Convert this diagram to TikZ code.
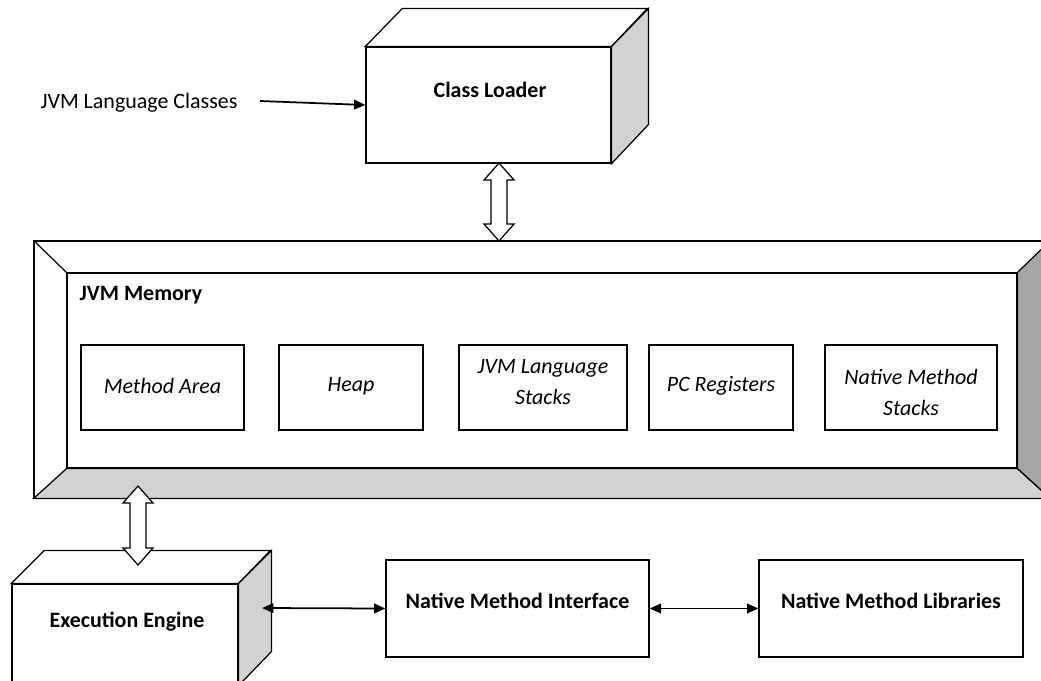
\documentclass[tikz,border=0pt]{standalone}
\usepackage{fontspec}
\setmainfont{Carlito}
\usetikzlibrary{calc, shapes, arrows.meta}

\newcommand{\fatarrow}[2]{%
  \filldraw[fill=white] (#1) -- ++(15,17) -- ++(-7,0) -- ($(#2)+(8,-17)$) -- ++(7,0) -- (#2)
    -- ++(-15,-17) -- ++(7,0) -- ($(#1)+(-8,17)$) -- ++(-7,0) -- cycle;}

\begin{document}
\begin{tikzpicture}[x=0.02cm, y=-0.02cm, line width=0.7pt,
  every node/.style={font=\fontsize{12.5}{17}\selectfont},
  box/.style={draw, fill=white, inner sep=0pt},
  bftext/.style={font=\fontsize{12.5}{17}\selectfont\bfseries},
  part/.style={box, minimum height=1.7cm},
  parttext/.style={align=center, inner sep=0pt, font=\fontsize{12.5}{17.5}\selectfont\itshape},
  link/.style={line width=1pt, {Triangle[length=6.5pt,width=5.5pt]}-{Triangle[length=6.5pt,width=5.5pt]}}]
  \useasboundingbox (0,0) rectangle (1041,680);
  \clip (0,0) rectangle (1041,680);

  \node[box, minimum width=4.9cm, minimum height=2.32cm] (cl) at (488.5,105) {};
  \filldraw[fill=white] (cl.north west) -- ++(37,-38) -- ++(245,0) -- (cl.north east) -- cycle;
  \filldraw[fill=gray!35] (cl.north east) -- ++(37,-38) -- ++(0,116) -- (cl.south east) -- cycle;
  \node[bftext] (clt) at (490,90) {Class Loader};

  \node (jlc) at (139,103) {JVM Language Classes};
  \coordinate (jlce) at (260,101);
  \draw[line width=1pt, -{Triangle[length=6.5pt,width=5.5pt]}] (jlce) -- (cl.west);

  \node[box, minimum width=20.32cm, minimum height=5.14cm] (mem) at (542,369.5) {};
  \node[box, minimum width=19cm, minimum height=3.9cm] (memin) at (542,370.5) {};
  \draw (mem.north west) -- (memin.north west);
  \filldraw[fill=gray!35] (mem.south west) -- (memin.south west) -- (memin.south east) -- (mem.south east) -- cycle;
  \filldraw[fill=gray!70] (memin.north east) -- (mem.north east) -- (mem.south east) -- (memin.south east) -- cycle;
  \node[bftext, anchor=west, inner sep=0pt] (memt) at (79,295) {JVM Memory};

  \node[part, minimum width=3.26cm, label={[parttext, yshift=1pt]center:Method Area}] (ma) at (162.5,387.5) {};
  \node[part, minimum width=2.88cm, label={[parttext, yshift=1pt]center:Heap}] (hp) at (351,387.5) {};
  \node[part, minimum width=3.36cm, label={[parttext, yshift=3pt]center:{JVM Language\\Stacks}}] (jls) at (543,387.5) {};
  \node[part, minimum width=2.88cm, label={[parttext, yshift=1pt]center:PC Registers}] (pcr) at (721,387.5) {};
  \node[part, minimum width=3.44cm, label={[parttext, yshift=-3pt]center:{Native Method\\Stacks}}] (nms) at (911,387.5) {};

  \coordinate (b1t) at (499,163);
  \coordinate (b1b) at (499,241);
  \fatarrow{b1t}{b1b}

  \node[box, minimum width=4.52cm, minimum height=2.02cm] (ee) at (125,634.5) {};
  \filldraw[fill=white] (ee.north west) -- ++(33,-33) -- ++(226,0) -- (ee.north east) -- cycle;
  \filldraw[fill=gray!35] (ee.north east) -- ++(33,-33) -- ++(0,101) -- (ee.south east) -- cycle;
  \node[bftext] (eet) at (127,622) {Execution Engine};
  \coordinate (b2t) at (138,486);
  \coordinate (b2b) at (138,565);
  \fatarrow{b2t}{b2b}

  \node[box, bftext, text height=8pt, text depth=8pt, minimum width=5.26cm, minimum height=1.94cm] (nmi) at (517.5,608.5) {Native Method Interface};
  \node[box, bftext, text height=8pt, text depth=8pt, minimum width=5.28cm, minimum height=1.94cm] (nml) at (891,608.5) {Native Method Libraries};
  \coordinate (ees) at (262,608);
  \draw[link] (ees) -- (nmi.west);
  \draw[link] (nmi.east) -- (nml.west);
\end{tikzpicture}
\end{document}
